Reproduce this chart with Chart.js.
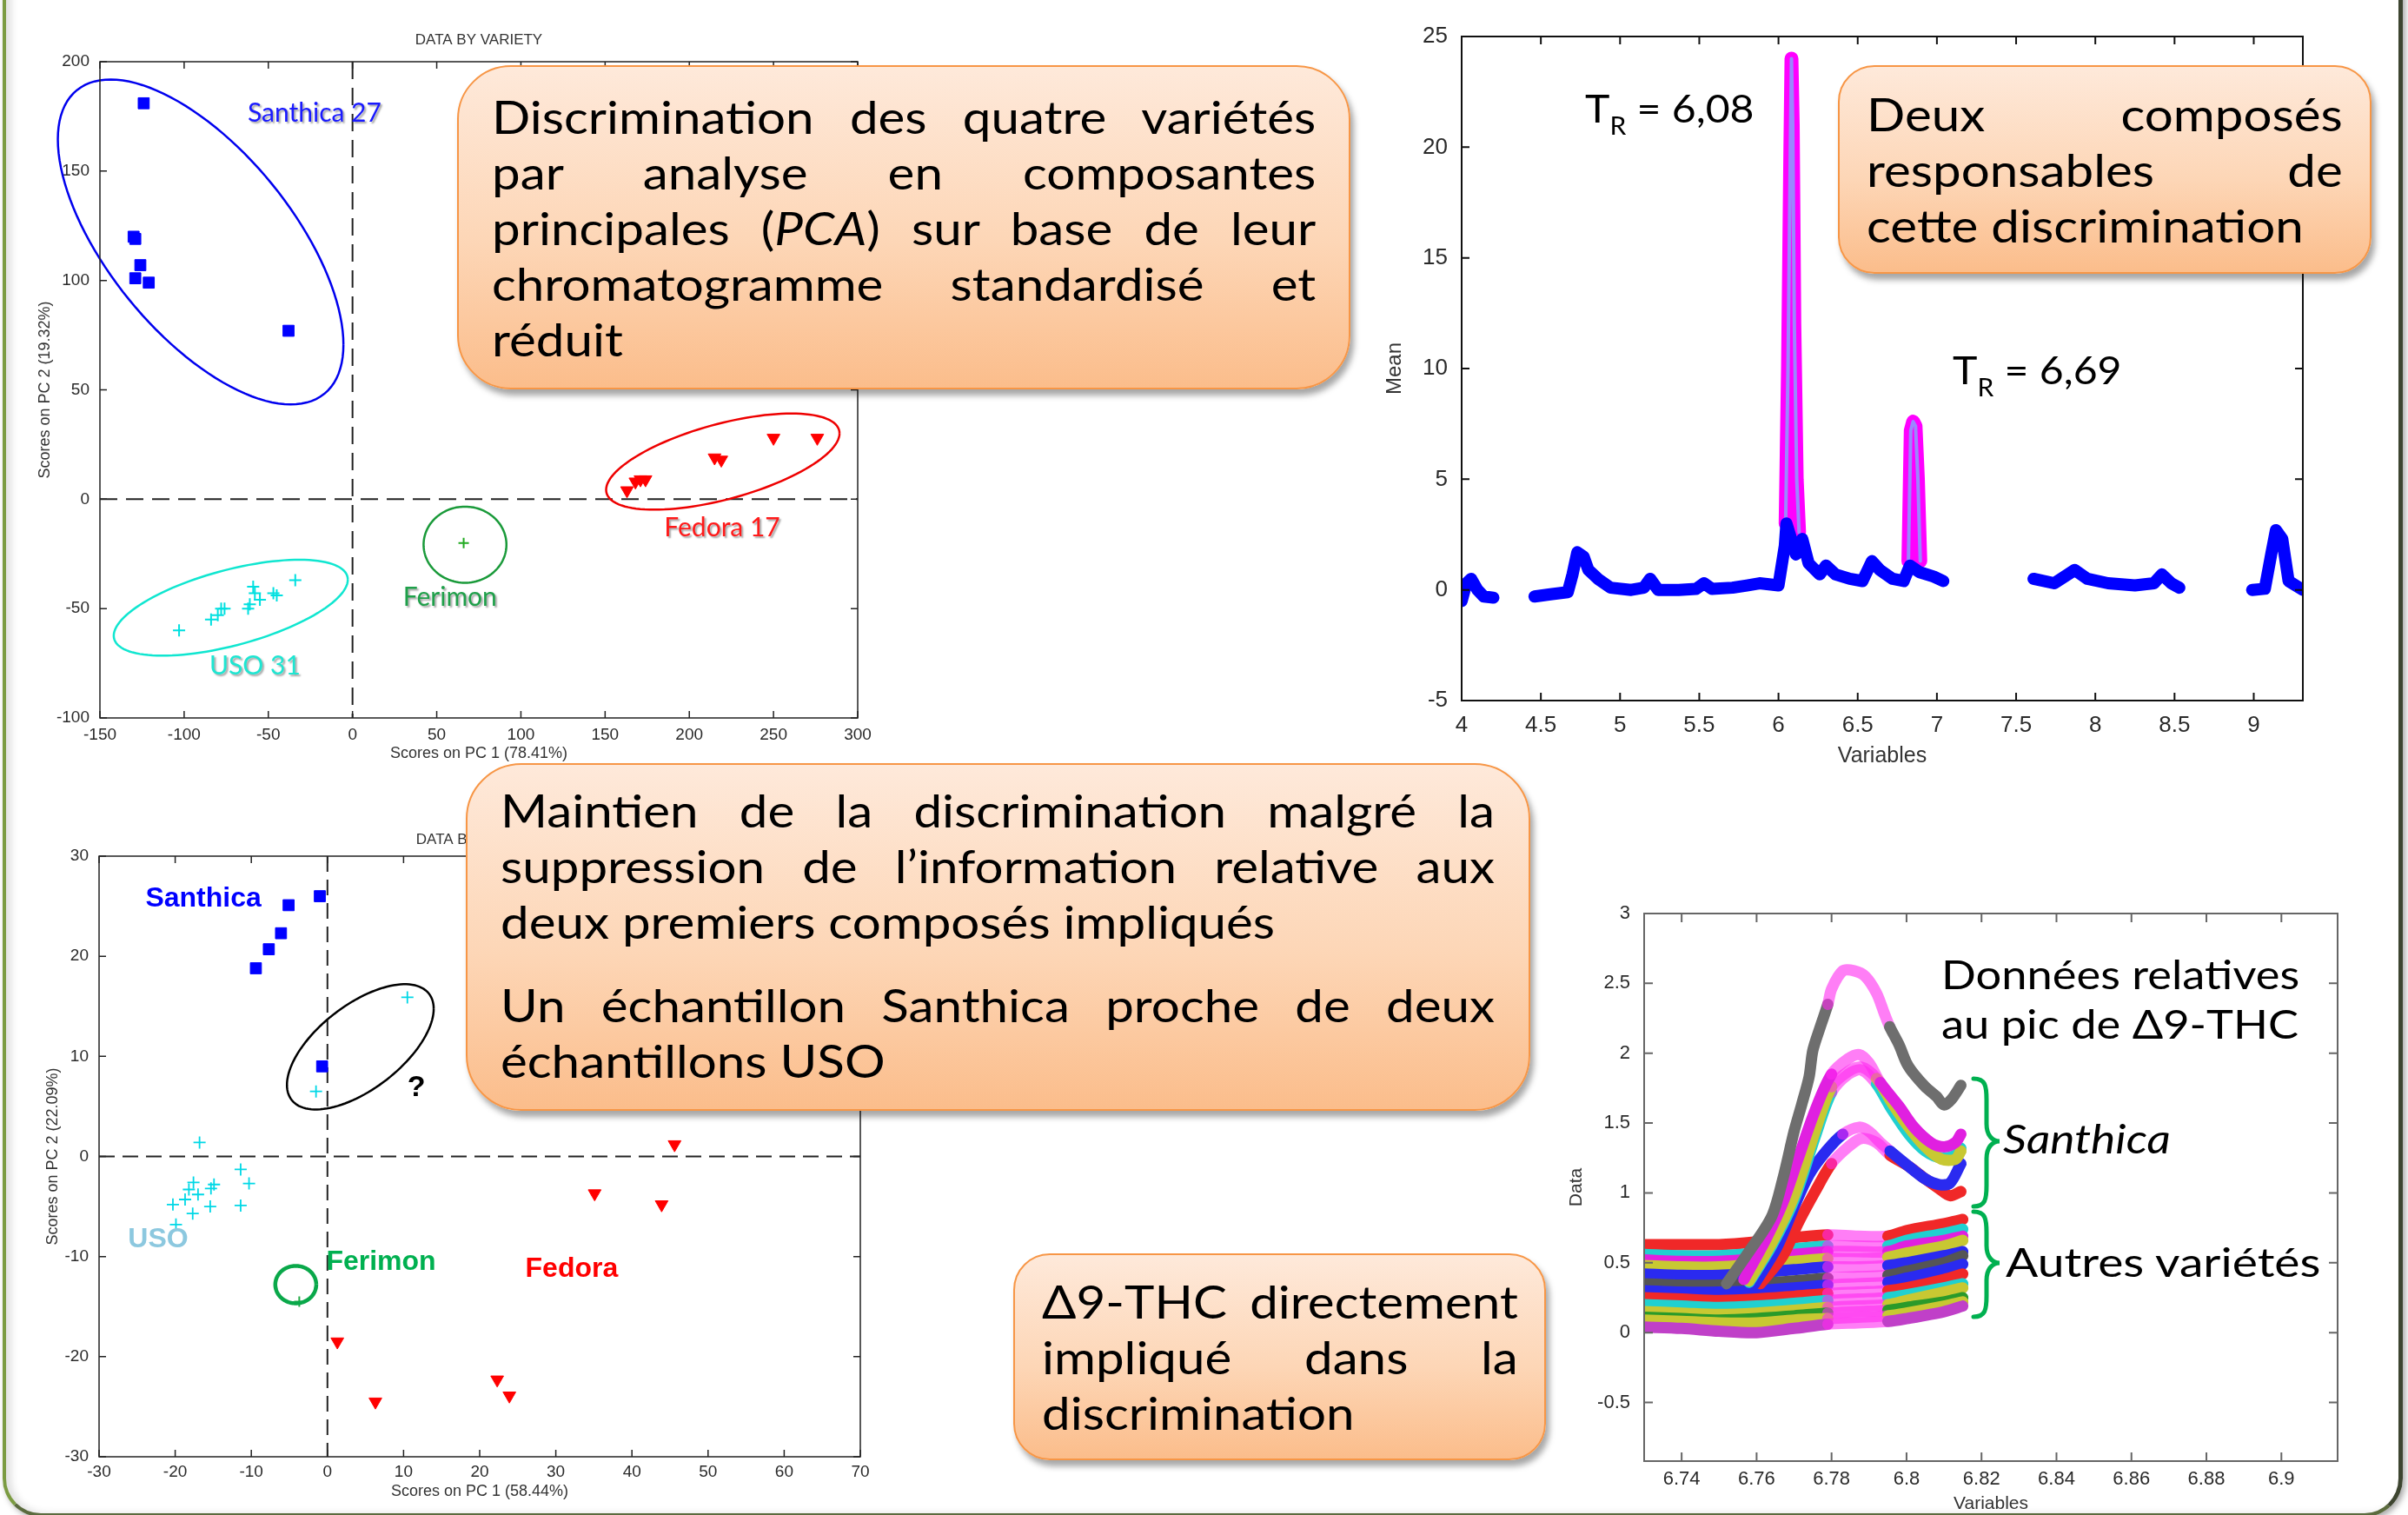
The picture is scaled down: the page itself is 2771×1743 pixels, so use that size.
<!DOCTYPE html>
<html>
<head>
<meta charset="utf-8">
<script src="https://cdn.jsdelivr.net/npm/chart.js@4.4.1/dist/chart.umd.min.js"></script>
<style>
  html, body { margin: 0; padding: 0; background: #fff; }
  #page { position: relative; width: 2771px; height: 1743px; overflow: hidden; background: #fff; }
  #frame { position: absolute; left: 3px; top: -100px; width: 2762px; height: 1845px; box-sizing: border-box;
           border-left: 4px solid #7b9b42; border-right: 5px solid #3d4530; border-bottom: 4px solid #5b6b3e;
           border-radius: 44px; box-shadow: 3px 3px 7px rgba(0,0,0,0.35), inset 6px 0 8px rgba(0,0,0,0.12); }
  canvas { position: absolute; }
  .box { position: absolute; box-sizing: border-box; border: 2.5px solid #f79646;
         background: linear-gradient(to bottom, #fee9da 0%, #fdd6b6 55%, #fbbd8b 100%);
         box-shadow: 4px 7px 7px rgba(0,0,0,0.35); }
  .txt { position: absolute; font-family: Lato, "Open Sans", sans-serif; font-size: 53px; line-height: 64px;
         color: #000; transform-origin: 0 0; transform: scaleX(1.1); }
  .txt div { white-space: nowrap; text-align: justify; text-align-last: justify; }
  .txt div.last { text-align-last: left; }
  .lbl { position: absolute; font-family: Lato, "Open Sans", sans-serif; color: #000; white-space: nowrap;
         transform-origin: 0 0; }
  svg { position: absolute; left: 0; top: 0; }
</style>
</head>
<body>
<div id="page">
  <div id="frame"></div>

  <canvas id="pca1" width="1010" height="880" style="left:0px;top:20px"></canvas>
  <canvas id="mean" width="1140" height="900" style="left:1560px;top:0px"></canvas>
  <canvas id="pca2" width="1010" height="813" style="left:0px;top:930px"></canvas>
  <canvas id="thc" width="991" height="743" style="left:1780px;top:1000px"></canvas>

  <div class="lbl" style="left:1824px;top:97px;font-size:45px;line-height:54px;transform:scaleX(1.07)">T<span style="font-size:28px;position:relative;top:14px">R</span> = 6,08</div>
  <div class="lbl" style="left:2247px;top:398px;font-size:45px;line-height:54px;transform:scaleX(1.07)">T<span style="font-size:28px;position:relative;top:14px">R</span> = 6,69</div>

  <div class="lbl" style="left:2234px;top:1092px;font-size:46px;line-height:57px;transform:scaleX(1.14)">Données relatives<br>au pic de &#916;9-THC</div>
  <div class="lbl" style="left:2305px;top:1281px;font-size:46px;line-height:57px;font-style:italic;transform:scaleX(1.16)">Santhica</div>
  <div class="lbl" style="left:2308px;top:1423px;font-size:46px;line-height:57px;transform:scaleX(1.2)">Autres variétés</div>

  <svg width="2771" height="1743">
    <path id="brace1" fill="none" stroke="#00b050" stroke-width="5" stroke-linecap="round"></path>
    <path id="brace2" fill="none" stroke="#00b050" stroke-width="5" stroke-linecap="round"></path>
  </svg>

  <div class="box" style="left:526px;top:75px;width:1028px;height:373px;border-radius:62px"></div>
  <div class="txt" style="left:566px;top:102px;width:862px">
    <div>Discrimination des quatre variétés</div>
    <div>par analyse en composantes</div>
    <div>principales (<i>PCA</i>) sur base de leur</div>
    <div>chromatogramme standardisé et</div>
    <div class="last">réduit</div>
  </div>

  <div class="box" style="left:2115px;top:75px;width:614px;height:240px;border-radius:42px"></div>
  <div class="txt" style="left:2148px;top:99px;width:498px">
    <div>Deux composés</div>
    <div>responsables de</div>
    <div class="last">cette discrimination</div>
  </div>

  <div class="box" style="left:536px;top:878px;width:1225px;height:400px;border-radius:64px"></div>
  <div class="txt" style="left:576px;top:900px;width:1040px">
    <div>Maintien de la discrimination malgré la</div>
    <div>suppression de l’information relative aux</div>
    <div class="last">deux premiers composés impliqués</div>
    <div style="margin-top:32px">Un échantillon Santhica proche de deux</div>
    <div class="last">échantillons USO</div>
  </div>

  <div class="box" style="left:1166px;top:1442px;width:613px;height:238px;border-radius:42px"></div>
  <div class="txt" style="left:1199px;top:1465px;width:498px">
    <div>&#916;9-THC directement</div>
    <div>impliqué dans la</div>
    <div class="last">discrimination</div>
  </div>
</div>

<script>
// ---------------- data : PCA on full chromatogram ----------------
const santhicaPc1 = [-124, -130, -129, -126, -129, -121, -38];
const santhicaPc2 = [181, 120, 119, 107, 101, 99, 77];
const fedoraPc1 = [163, 168, 171, 174, 215, 219, 250, 276];
const fedoraPc2 = [4, 8, 9, 9, 19, 18, 28, 28];
const ferimonPc1 = [66];
const ferimonPc2 = [-20];
const usoPc1 = [-103, -84, -80, -78, -76, -62, -61, -59, -58, -55, -47, -45, -34];
const usoPc2 = [-60, -55, -53, -50, -50, -50, -48, -40, -43, -46, -43, -44, -37];
const pca1XTicks = [-150, -100, -50, 0, 50, 100, 150, 200, 250, 300];
const pca1YTicks = [-100, -50, 0, 50, 100, 150, 200];

// ---------------- data : mean chromatogram ----------------
const meanX = [4.00, 4.03, 4.06, 4.10, 4.14, 4.20, 4.33,
  4.46, 4.56, 4.67, 4.70, 4.73, 4.77, 4.80, 4.86, 4.94, 5.07, 5.15, 5.19, 5.24, 5.37, 5.48, 5.53, 5.58,
  5.71, 5.80, 5.88, 6.00, 6.04, 6.05, 6.08, 6.11, 6.15, 6.19, 6.26, 6.30, 6.36, 6.45, 6.53, 6.59, 6.64,
  6.72, 6.79, 6.83, 6.89, 6.98, 7.04, 7.30,
  7.61, 7.74, 7.87, 7.95, 8.08, 8.25, 8.37, 8.42, 8.48, 8.53, 8.75,
  8.99, 9.07, 9.11, 9.14, 9.18, 9.22, 9.31];
const meanY = [-0.5, 0.3, 0.5, 0.0, -0.3, -0.35, null,
  -0.3, -0.2, -0.1, 0.7, 1.7, 1.5, 0.9, 0.5, 0.1, 0.0, 0.1, 0.5, 0.0, 0.0, 0.05, 0.3, 0.05,
  0.1, 0.2, 0.3, 0.2, 2.0, 3.0, 2.3, 1.6, 2.3, 1.2, 0.7, 1.1, 0.7, 0.5, 0.4, 1.3, 0.9,
  0.5, 0.4, 1.1, 0.8, 0.6, 0.4, null,
  0.5, 0.3, 0.9, 0.5, 0.3, 0.2, 0.3, 0.7, 0.3, 0.1, null,
  0.0, 0.05, 1.6, 2.7, 2.3, 0.4, 0.0];
const peakX = [6.045, 6.06, 6.075, 6.082, 6.09, 6.10, 6.115, 6.13, 6.5,
  6.82, 6.835, 6.85, 6.865, 6.88, 6.895];
const peakY = [3.0, 10, 20, 24.0, 21, 12, 5, 2.6, null,
  1.3, 7.2, 7.6, 7.4, 5.0, 1.3];
const meanXTicks = [4, 4.5, 5, 5.5, 6, 6.5, 7, 7.5, 8, 8.5, 9];
const meanYTicks = [-5, 0, 5, 10, 15, 20, 25];

// ---------------- data : PCA without the two compounds ----------------
const santhica2Pc1 = [-1, -5.1, -6.1, -7.7, -9.4, -0.7];
const santhica2Pc2 = [26, 25.1, 22.3, 20.7, 18.8, 9];
const uso2Pc1 = [10.5, -1.5, -16.8, -11.4, -10.3, -17.6, -14.9, -15.3, -18.2, -17.0, -18.7, -20.3, -15.4, -11.4, -17.7, -19.9];
const uso2Pc2 = [15.9, 6.5, 1.4, -1.3, -2.7, -2.6, -2.8, -3.2, -3.3, -3.8, -4.3, -4.8, -5.0, -4.9, -5.7, -6.8];
const ferimon2Pc1 = [-3.7];
const ferimon2Pc2 = [-14.5];
const fedora2Pc1 = [45.6, 35.1, 43.9, 1.3, 6.3, 22.3, 23.9];
const fedora2Pc2 = [1.2, -3.7, -4.8, -18.5, -24.5, -22.3, -23.9];
const pca2XTicks = [-30, -20, -10, 0, 10, 20, 30, 40, 50, 60, 70];
const pca2YTicks = [-30, -20, -10, 0, 10, 20, 30];

// ---------------- data : delta9-THC peak ----------------
const grayX = [6.752, 6.758, 6.764, 6.767, 6.770, 6.772, 6.774, 6.775, 6.777, 6.779, 6.780, 6.783, 6.786,
  6.789, 6.792, 6.794, 6.7955, 6.798, 6.800, 6.802, 6.805, 6.808, 6.810, 6.812, 6.8145];
const grayY = [0.35, 0.58, 0.83, 1.10, 1.44, 1.63, 1.83, 2.02, 2.19, 2.35, 2.46, 2.59, 2.59,
  2.55, 2.43, 2.29, 2.19, 2.06, 1.93, 1.85, 1.76, 1.69, 1.63, 1.67, 1.77];
const magX = [6.7566, 6.7625, 6.767, 6.771, 6.7756, 6.780, 6.7844, 6.7874, 6.790, 6.793, 6.798, 6.802, 6.8065, 6.810, 6.813, 6.8145];
const magY = [0.38, 0.67, 0.93, 1.24, 1.59, 1.85, 1.96, 1.99, 1.93, 1.79, 1.62, 1.47, 1.36, 1.33, 1.36, 1.42];
const yelX = [6.758, 6.764, 6.770, 6.7756, 6.780, 6.7845, 6.788, 6.792, 6.796, 6.8006, 6.805, 6.8094, 6.813, 6.8145];
const yelY = [0.37, 0.64, 0.98, 1.44, 1.76, 1.87, 1.90, 1.82, 1.65, 1.47, 1.33, 1.24, 1.24, 1.30];
const cyaY = [0.36, 0.62, 0.95, 1.40, 1.72, 1.85, 1.88, 1.78, 1.60, 1.42, 1.30, 1.25, 1.27, 1.32];
const bluX = [6.7595, 6.7654, 6.770, 6.774, 6.7786, 6.783, 6.7874, 6.790, 6.793, 6.7956, 6.8006, 6.805, 6.8087, 6.8116, 6.8145];
const bluY = [0.35, 0.61, 0.90, 1.13, 1.30, 1.42, 1.47, 1.44, 1.36, 1.30, 1.19, 1.10, 1.06, 1.07, 1.21];
const redX = [6.761, 6.767, 6.771, 6.7756, 6.780, 6.7845, 6.788, 6.792, 6.7956, 6.8006, 6.805, 6.8087, 6.8116, 6.8145];
const redY = [0.35, 0.55, 0.78, 1.01, 1.21, 1.33, 1.39, 1.36, 1.27, 1.19, 1.10, 1.03, 0.98, 1.01];

const bandX = [6.73, 6.74, 6.75, 6.76, 6.77, 6.779, 6.787, 6.795, 6.80, 6.81, 6.815];
const band1 = [0.63, 0.63, 0.63, 0.65, 0.68, 0.70, 0.69, 0.69, 0.73, 0.78, 0.81];
const band2 = [0.56, 0.55, 0.55, 0.57, 0.60, 0.62, 0.62, 0.62, 0.66, 0.71, 0.74];
const band3 = [0.52, 0.51, 0.51, 0.53, 0.56, 0.58, 0.58, 0.58, 0.62, 0.66, 0.69];
const band4 = [0.48, 0.47, 0.47, 0.49, 0.51, 0.53, 0.53, 0.54, 0.57, 0.62, 0.66];
const band5 = [0.42, 0.41, 0.41, 0.43, 0.45, 0.47, 0.47, 0.48, 0.50, 0.55, 0.58];
const band6 = [0.35, 0.34, 0.34, 0.35, 0.37, 0.39, 0.40, 0.41, 0.44, 0.50, 0.55];
const band7 = [0.30, 0.29, 0.29, 0.30, 0.32, 0.34, 0.35, 0.36, 0.39, 0.45, 0.49];
const band8 = [0.25, 0.24, 0.23, 0.24, 0.26, 0.28, 0.29, 0.30, 0.32, 0.38, 0.42];
const band9 = [0.20, 0.19, 0.18, 0.19, 0.21, 0.23, 0.24, 0.25, 0.27, 0.32, 0.35];
const band10 = [0.15, 0.14, 0.13, 0.14, 0.16, 0.18, 0.19, 0.20, 0.23, 0.29, 0.32];
const band11 = [0.11, 0.10, 0.09, 0.10, 0.12, 0.14, 0.15, 0.16, 0.18, 0.22, 0.25];
const band12 = [0.09, 0.08, 0.07, 0.07, 0.09, 0.10, 0.11, 0.12, 0.14, 0.19, 0.22];
const band13 = [0.04, 0.03, 0.01, 0.00, 0.03, 0.06, 0.07, 0.08, 0.10, 0.15, 0.19];
const thcXTicks = [6.74, 6.76, 6.78, 6.80, 6.82, 6.84, 6.86, 6.88, 6.90];
const thcYTicks = [-0.5, 0, 0.5, 1, 1.5, 2, 2.5, 3];
const highlight = [6.779, 6.7956];   // x-range shown in magenta

// ---------------- helpers ----------------
Chart.defaults.font.family = '"Liberation Sans", Arial, sans-serif';
Chart.defaults.animation = false;
Chart.defaults.responsive = false;

const zip = (xs, ys) => xs.map((x, i) => ({ x: x, y: ys[i] }));
const fmt = v => String(+(+v).toFixed(2));

function axis(o) {
  return {
    type: 'linear', min: o.min, max: o.max,
    grid: { display: false }, border: { display: false },
    ticks: { font: { size: o.fs }, color: '#2a2a2a', padding: o.pad, autoSkip: false, maxRotation: 0, callback: fmt },
    afterBuildTicks: s => { s.ticks = o.ticks.map(v => ({ value: v })); },
    afterFit: s => { if (o.w) s.width = o.w; if (o.h) s.height = o.h; },
    title: { display: true, text: o.title, font: { size: o.tfs }, color: '#333', padding: o.tpad }
  };
}

// MATLAB-like frame with inner ticks on all sides, zero lines, ellipses and labels
const matPlot = {
  id: 'matPlot',
  beforeDatasetsDraw(chart, args, o) {
    if (!o.zero) return;
    const { ctx, chartArea: a, scales: { x, y } } = chart;
    ctx.save();
    ctx.strokeStyle = '#222';
    ctx.lineWidth = 2;
    ctx.setLineDash(o.zero);
    const px = x.getPixelForValue(0), py = y.getPixelForValue(0);
    ctx.beginPath();
    ctx.moveTo(px, a.top); ctx.lineTo(px, a.bottom);
    ctx.moveTo(a.left, py); ctx.lineTo(a.right, py);
    ctx.stroke();
    ctx.restore();
  },
  afterDatasetsDraw(chart, args, o) {
    const { ctx, chartArea: a, scales: { x, y } } = chart;
    ctx.save();
    (o.ellipses || []).forEach(e => {
      ctx.beginPath();
      for (let i = 0; i <= 120; i++) {
        const t = i / 120 * Math.PI * 2;
        const vx = e.c[0] + e.a[0] * Math.cos(t) + e.b[0] * Math.sin(t);
        const vy = e.c[1] + e.a[1] * Math.cos(t) + e.b[1] * Math.sin(t);
        const px = x.getPixelForValue(vx), py = y.getPixelForValue(vy);
        if (i === 0) ctx.moveTo(px, py); else ctx.lineTo(px, py);
      }
      ctx.strokeStyle = e.color;
      ctx.lineWidth = e.width;
      ctx.stroke();
    });
    (o.notes || []).forEach(n => {
      ctx.save();
      ctx.font = n.font;
      ctx.fillStyle = n.color;
      ctx.textAlign = 'left';
      ctx.textBaseline = 'alphabetic';
      if (n.shadow) {
        ctx.shadowColor = 'rgba(0,0,0,0.35)';
        ctx.shadowOffsetX = 2; ctx.shadowOffsetY = 2; ctx.shadowBlur = 2;
      }
      ctx.fillText(n.text, x.getPixelForValue(n.x), y.getPixelForValue(n.y));
      ctx.restore();
    });
    ctx.strokeStyle = o.color;
    ctx.lineWidth = o.width;
    ctx.strokeRect(a.left, a.top, a.right - a.left, a.bottom - a.top);
    const L = o.tick;
    ctx.beginPath();
    x.ticks.forEach(t => {
      const p = x.getPixelForValue(t.value);
      ctx.moveTo(p, a.bottom); ctx.lineTo(p, a.bottom - L);
      ctx.moveTo(p, a.top); ctx.lineTo(p, a.top + L);
    });
    y.ticks.forEach(t => {
      const p = y.getPixelForValue(t.value);
      ctx.moveTo(a.left, p); ctx.lineTo(a.left + L, p);
      ctx.moveTo(a.right, p); ctx.lineTo(a.right - L, p);
    });
    ctx.stroke();
    if (o.title) {
      ctx.font = o.title.font;
      ctx.fillStyle = '#333';
      ctx.textAlign = 'center';
      ctx.textBaseline = 'middle';
      ctx.fillText(o.title.text, (a.left + a.right) / 2, a.top + o.title.dy);
    }
    ctx.restore();
  }
};

const basePlugins = { legend: { display: false }, tooltip: { enabled: false } };

// ---------------- chart 1 : PCA ----------------
new Chart(document.getElementById('pca1'), {
  type: 'scatter',
  data: { datasets: [
    { data: zip(santhicaPc1, santhicaPc2), pointStyle: 'rect', pointRadius: 9, backgroundColor: '#0000ff', borderColor: '#0000ff' },
    { data: zip(fedoraPc1, fedoraPc2), pointStyle: 'triangle', rotation: 180, pointRadius: 8.5, backgroundColor: '#ff0000', borderColor: '#ff0000' },
    { data: zip(ferimonPc1, ferimonPc2), pointStyle: 'cross', pointRadius: 6, borderWidth: 2, borderColor: '#22aa22' },
    { data: zip(usoPc1, usoPc2), pointStyle: 'cross', pointRadius: 7, borderWidth: 2, borderColor: '#00e0e0' }
  ] },
  options: {
    layout: { padding: { top: 51, right: 23, left: 0, bottom: 0 } },
    scales: {
      x: axis({ min: -150, max: 300, ticks: pca1XTicks, fs: 19, pad: 0, h: 74, title: 'Scores on PC 1 (78.41%)', tfs: 18, tpad: { top: 0, bottom: 22 } }),
      y: axis({ min: -100, max: 200, ticks: pca1YTicks, fs: 19, pad: 4, w: 115, title: 'Scores on PC 2 (19.32%)', tfs: 18, tpad: { top: 41, bottom: 0 } })
    },
    plugins: Object.assign({}, basePlugins, {
      matPlot: {
        color: '#222', width: 1.5, tick: 8, zero: [20, 10],
        title: { text: 'DATA BY VARIETY', font: '17px "Liberation Sans", Arial', dy: -25 },
        ellipses: [
          { c: [-90.2, 117.6], a: [84.8, -46.9], b: [0, -57.6], color: '#0000ee', width: 2.5 },
          { c: [219.9, 17.2], a: [69.3, 12.9], b: [0, -17.8], color: '#ee0000', width: 2.5 },
          { c: [66.8, -20.8], a: [24.6, 0], b: [0, -17.4], color: '#1a9a3a', width: 2.5 },
          { c: [-72.3, -49.6], a: [69.5, 12.8], b: [0, -17.8], color: '#10e6d0', width: 2.5 }
        ],
        notes: [
          { text: 'Santhica 27', x: -62.3, y: 172.6, color: '#1a1aff', font: '30px Lato', shadow: true },
          { text: 'Fedora 17', x: 185.1, y: -17.0, color: '#ff1a1a', font: '30px Lato', shadow: true },
          { text: 'Ferimon', x: 30.0, y: -48.9, color: '#1fa04a', font: '30px Lato', shadow: true },
          { text: 'USO 31', x: -85.0, y: -80.1, color: '#1ee6d2', font: '30px Lato', shadow: true }
        ]
      }
    })
  },
  plugins: [matPlot]
});

// ---------------- chart 2 : mean chromatogram ----------------
new Chart(document.getElementById('mean'), {
  type: 'scatter',
  data: { datasets: [
    { data: zip(meanX, meanY), showLine: true, spanGaps: false, borderColor: '#0000ff', borderWidth: 14,
      borderCapStyle: 'round', borderJoinStyle: 'round', pointRadius: 0, order: 0 },
    { data: zip(peakX, peakY), showLine: true, spanGaps: false, borderColor: '#ff00ff', borderWidth: 16,
      borderCapStyle: 'round', borderJoinStyle: 'round', pointRadius: 0, order: 2 },
    { data: zip(peakX, peakY), showLine: true, spanGaps: false, borderColor: '#9b86ff', borderWidth: 4,
      borderCapStyle: 'round', borderJoinStyle: 'round', pointRadius: 0, order: 1 }
  ] },
  options: {
    layout: { padding: { top: 42, right: 50, left: 0, bottom: 0 } },
    scales: {
      x: axis({ min: 4, max: 9.31, ticks: meanXTicks, fs: 26, pad: 5, h: 94, title: 'Variables', tfs: 25, tpad: { top: 0, bottom: 15 } }),
      y: axis({ min: -5, max: 25, ticks: meanYTicks, fs: 26, pad: 8, w: 122, title: 'Mean', tfs: 24, tpad: { top: 31, bottom: 0 } })
    },
    plugins: Object.assign({}, basePlugins, { matPlot: { color: '#111', width: 2, tick: 9 } })
  },
  plugins: [matPlot]
});

// ---------------- chart 3 : PCA without the two compounds ----------------
new Chart(document.getElementById('pca2'), {
  type: 'scatter',
  data: { datasets: [
    { data: zip(santhica2Pc1, santhica2Pc2), pointStyle: 'rect', pointRadius: 9, backgroundColor: '#0000ff', borderColor: '#0000ff' },
    { data: zip(fedora2Pc1, fedora2Pc2), pointStyle: 'triangle', rotation: 180, pointRadius: 8.5, backgroundColor: '#ff0000', borderColor: '#ff0000' },
    { data: zip(ferimon2Pc1, ferimon2Pc2), pointStyle: 'cross', pointRadius: 6, borderWidth: 2, borderColor: '#22aa44' },
    { data: zip(uso2Pc1, uso2Pc2), pointStyle: 'cross', pointRadius: 7, borderWidth: 1.8, borderColor: '#00d8e6' }
  ] },
  options: {
    layout: { padding: { top: 55, right: 20, left: 0, bottom: 0 } },
    scales: {
      x: axis({ min: -30, max: 70, ticks: pca2XTicks, fs: 19, pad: -2, h: 67, title: 'Scores on PC 1 (58.44%)', tfs: 18, tpad: { top: 0, bottom: 16 } }),
      y: axis({ min: -30, max: 30, ticks: pca2YTicks, fs: 19, pad: 4, w: 114, title: 'Scores on PC 2 (22.09%)', tfs: 18, tpad: { top: 50, bottom: 0 } })
    },
    plugins: Object.assign({}, basePlugins, {
      matPlot: {
        color: '#222', width: 1.5, tick: 8, zero: [18, 9],
        title: { text: 'DATA BY VARIETY', font: '17px "Liberation Sans", Arial', dy: -19 },
        ellipses: [
          { c: [4.32, 10.95], a: [9.64, 3.80], b: [0, -4.97], color: '#000', width: 2.5 },
          { c: [-4.16, -12.8], a: [2.69, 0], b: [0, 1.87], color: '#0aa84a', width: 4.5 }
        ],
        notes: [
          { text: 'Santhica', x: -23.9, y: 25.0, color: '#0000ff', font: 'bold 32px "Liberation Sans", Arial' },
          { text: '?', x: 10.5, y: 6.0, color: '#000', font: 'bold 34px "Liberation Sans", Arial' },
          { text: 'USO', x: -26.2, y: -9.1, color: '#8cc8df', font: 'bold 32px "Liberation Sans", Arial' },
          { text: 'Ferimon', x: -0.16, y: -11.3, color: '#00b050', font: 'bold 32px "Liberation Sans", Arial' },
          { text: 'Fedora', x: 26.0, y: -12.0, color: '#ff0000', font: 'bold 32px "Liberation Sans", Arial' }
        ]
      }
    })
  },
  plugins: [matPlot]
});

// ---------------- chart 4 : delta9-THC peak ----------------
const inHighlight = c => c.p0.parsed.x >= highlight[0] - 1e-6 && c.p1.parsed.x <= highlight[1] + 1e-6;
function curve(xs, ys, color, order) {
  return {
    data: zip(xs, ys), showLine: true, borderColor: color, borderWidth: 13, tension: 0.3,
    borderCapStyle: 'round', borderJoinStyle: 'round', pointRadius: 0, clip: 0, order: order,
    segment: { borderColor: c => inHighlight(c) ? 'rgba(255,40,240,0.6)' : undefined }
  };
}
new Chart(document.getElementById('thc'), {
  type: 'scatter',
  data: { datasets: [
    curve(grayX, grayY, '#6e6e6e', 0),
    curve(magX, magY, '#e020e0', 1),
    curve(yelX, yelY, '#c8c832', 2),
    curve(yelX, cyaY, '#20d0d0', 3),
    curve(bluX, bluY, '#2a2af0', 4),
    curve(redX, redY, '#f02828', 5),
    curve(bandX, band13, '#c040c8', 10),
    curve(bandX, band12, '#c8c832', 11),
    curve(bandX, band11, '#2a9a2a', 12),
    curve(bandX, band10, '#c8c832', 13),
    curve(bandX, band9, '#20d0d0', 14),
    curve(bandX, band8, '#f02828', 15),
    curve(bandX, band7, '#2a2af0', 16),
    curve(bandX, band6, '#555555', 17),
    curve(bandX, band5, '#2a2af0', 18),
    curve(bandX, band4, '#c8c832', 19),
    curve(bandX, band3, '#e020e0', 20),
    curve(bandX, band2, '#20d0d0', 21),
    curve(bandX, band1, '#f02828', 22)
  ] },
  options: {
    layout: { padding: { top: 51, right: 81, left: 0, bottom: 0 } },
    scales: {
      x: axis({ min: 6.73, max: 6.915, ticks: thcXTicks, fs: 22, pad: 0, h: 62, title: 'Variables', tfs: 21, tpad: { top: 0, bottom: 0 } }),
      y: axis({ min: -0.92, max: 3, ticks: thcYTicks, fs: 22, pad: 8, w: 112, title: 'Data', tfs: 21, tpad: { top: 22, bottom: 0 } })
    },
    plugins: Object.assign({}, basePlugins, { matPlot: { color: '#666', width: 2, tick: 10 } })
  },
  plugins: [matPlot]
});

// green braces next to the THC curves
function brace(x, w, y1, ym, y2) {
  const m = x + w * 0.5, t = x + w;
  return `M${x},${y1} C${x + w * 0.45},${y1} ${m},${y1 + 8} ${m},${y1 + 24} L${m},${ym - 20} ` +
         `C${m},${ym - 6} ${x + w * 0.75},${ym} ${t},${ym} C${x + w * 0.75},${ym} ${m},${ym + 6} ${m},${ym + 20} ` +
         `L${m},${y2 - 24} C${m},${y2 - 8} ${x + w * 0.45},${y2} ${x},${y2}`;
}
document.getElementById('brace1').setAttribute('d', brace(2271, 30, 1241, 1313, 1388));
document.getElementById('brace2').setAttribute('d', brace(2271, 30, 1394, 1453, 1515));
</script>
</body>
</html>
